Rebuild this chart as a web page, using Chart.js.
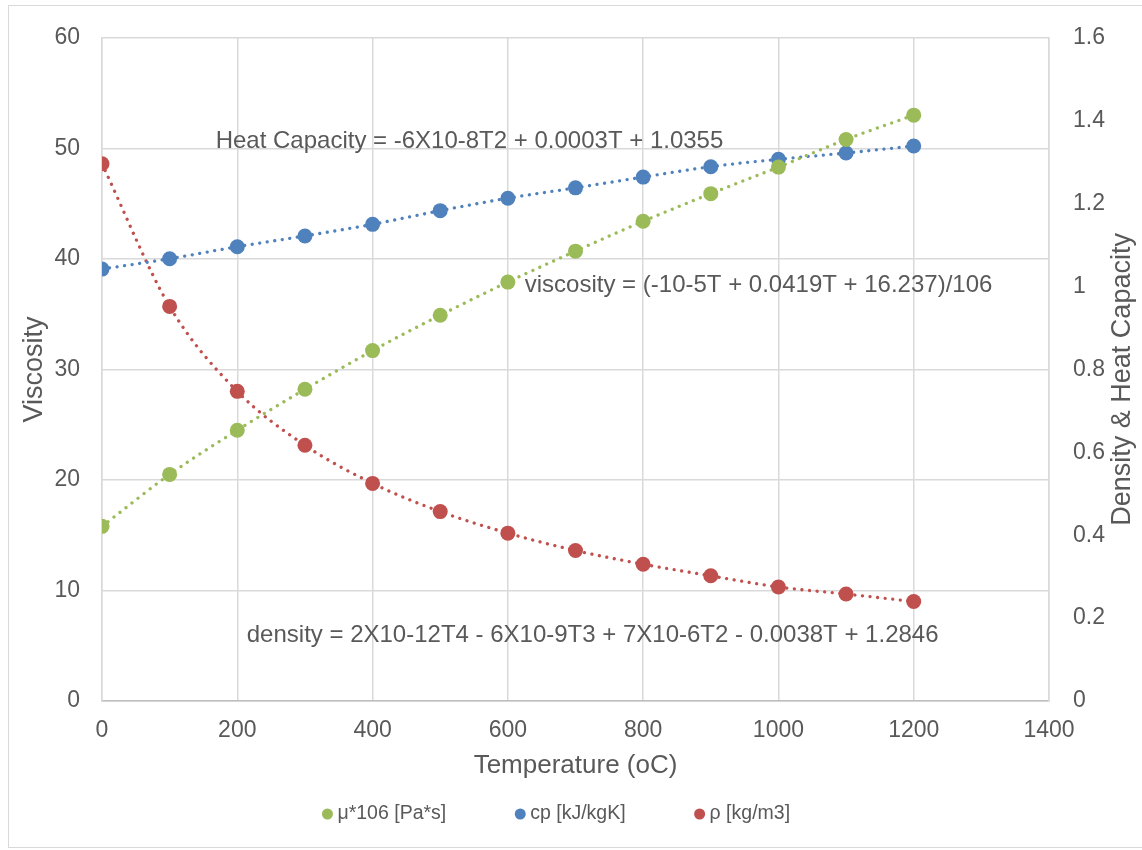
<!DOCTYPE html>
<html>
<head>
<meta charset="utf-8">
<script src="https://cdn.jsdelivr.net/npm/chart.js@4/dist/chart.umd.min.js"></script>
<style>
  html, body { margin: 0; padding: 0; background: #fff; }
  #wrap { position: relative; width: 1142px; height: 850px; }
</style>
</head>
<body>
<div id="wrap"><canvas id="chart"></canvas></div>
<script>
// data
const temperature = [0, 100, 200, 300, 400, 500, 600, 700, 800, 900, 1000, 1100, 1200];
const viscosity = [15.8, 20.5, 24.5, 28.2, 31.7, 34.9, 37.9, 40.7, 43.4, 45.9, 48.3, 50.8, 53.0];
const heatCapacity = [1.042, 1.067, 1.096, 1.122, 1.150, 1.183, 1.213, 1.238, 1.264, 1.289, 1.307, 1.322, 1.339];
const density = [1.296, 0.952, 0.747, 0.617, 0.525, 0.457, 0.405, 0.363, 0.330, 0.302, 0.275, 0.258, 0.240];

const seriesNames = ["μ*106 [Pa*s]", "cp [kJ/kgK]", "ρ [kg/m3]"];
const seriesColors = ["#9bbb59", "#4f81bd", "#c0504d"];
const equations = [
  "Heat Capacity = -6X10-8T2 + 0.0003T + 1.0355",
  "viscosity = (-10-5T + 0.0419T + 16.237)/106",
  "density = 2X10-12T4 - 6X10-9T3 + 7X10-6T2 - 0.0038T + 1.2846"
];
const xTitle = "Temperature (oC)";
const yLeftTitle = "Viscosity";
const yRightTitle = "Density & Heat Capacity";

const FONT = "'Liberation Sans', Arial, sans-serif";
const TEXT = "#595959";
const GRID = "#d9d9d9";

function points(ys) {
  return temperature.map((t, i) => ({ x: t, y: ys[i] }));
}

function series(i, ys, axis) {
  return {
    label: seriesNames[i],
    data: points(ys),
    yAxisID: axis,
    showLine: true,
    borderColor: seriesColors[i],
    backgroundColor: seriesColors[i],
    borderWidth: 3.3,
    borderDash: [0.01, 7.6],
    borderCapStyle: "round",
    cubicInterpolationMode: "monotone",
    pointRadius: 7.5,
    pointHoverRadius: 7.5,
    pointBorderWidth: 0
  };
}

// equation labels, legend, right title and frame
const extras = {
  id: "extras",
  afterDraw(chart) {
    const { ctx, chartArea, scales } = chart;
    const x = scales.x, yl = scales.y;
    ctx.save();

    ctx.strokeStyle = GRID;
    ctx.lineWidth = 1;
    ctx.strokeRect(8.5, 5.5, chart.width, chart.height - 8);

    ctx.fillStyle = TEXT;
    ctx.font = "24px " + FONT;
    ctx.textAlign = "left";
    ctx.textBaseline = "middle";
    const spots = [[168, 50.65], [625, 37.6], [214, 5.93]];
    equations.forEach((txt, i) => {
      ctx.fillText(txt, x.getPixelForValue(spots[i][0]), yl.getPixelForValue(spots[i][1]));
    });

    // right axis title, reads upward
    ctx.save();
    ctx.font = "27px " + FONT;
    ctx.textAlign = "center";
    ctx.translate(1123, (chartArea.top + chartArea.bottom) / 2 + 10);
    ctx.rotate(-Math.PI / 2);
    ctx.fillText(yRightTitle, 0, 0);
    ctx.restore();

    // legend
    ctx.font = "19.5px " + FONT;
    const dot = 11, gapIn = 4.5, gapOut = 68.5;
    const widths = seriesNames.map(n => ctx.measureText(n).width);
    const total = widths.reduce((a, w) => a + dot + gapIn + w, 0) + gapOut * (seriesNames.length - 1);
    let cx = 556 - total / 2;
    const ly = 814;
    seriesNames.forEach((n, i) => {
      ctx.fillStyle = seriesColors[i];
      ctx.beginPath();
      ctx.arc(cx + dot / 2, ly, dot / 2, 0, Math.PI * 2);
      ctx.fill();
      ctx.fillStyle = TEXT;
      ctx.fillText(n, cx + dot + gapIn, ly);
      cx += dot + gapIn + widths[i] + gapOut;
    });
    ctx.restore();
  }
};

new Chart(document.getElementById("chart"), {
  type: "scatter",
  data: {
    datasets: [
      series(0, viscosity, "y"),
      series(1, heatCapacity, "y1"),
      series(2, density, "y1")
    ]
  },
  options: {
    responsive: true,
    maintainAspectRatio: false,
    animation: false,
    layout: { padding: { left: 0, right: 0, top: 33, bottom: 69 } },
    plugins: {
      legend: { display: false },
      tooltip: { enabled: false }
    },
    scales: {
      x: {
        type: "linear",
        min: 0, max: 1400,
        ticks: { stepSize: 200, padding: 16, color: TEXT, font: { family: FONT, size: 23 },
                 callback: v => String(v) },
        grid: { color: GRID, lineWidth: 1.5, drawTicks: false },
        border: { color: "#bfbfbf", width: 1.5 },
        title: { display: true, text: xTitle, color: TEXT, font: { family: FONT, size: 26 }, padding: { top: 0, bottom: 0 } },
        afterFit(s) { s.height = 80; }
      },
      y: {
        position: "left",
        min: 0, max: 60,
        ticks: { stepSize: 10, padding: 22, color: TEXT, font: { family: FONT, size: 23 } },
        grid: { color: GRID, lineWidth: 1.5, drawTicks: false },
        border: { color: GRID, width: 1.5 },
        title: { display: true, text: yLeftTitle, color: TEXT, font: { family: FONT, size: 27 }, padding: { top: 18, bottom: 0 } },
        afterFit(s) { s.width = 102; }
      },
      y1: {
        position: "right",
        min: 0, max: 1.6,
        ticks: { stepSize: 0.2, padding: 24, color: TEXT, font: { family: FONT, size: 23 },
                 callback: v => String(+v.toFixed(1)) },
        grid: { display: false, drawTicks: false },
        border: { color: GRID, width: 1.5 },
        afterFit(s) { s.width = 93; }
      }
    }
  },
  plugins: [extras]
});
</script>
</body>
</html>
